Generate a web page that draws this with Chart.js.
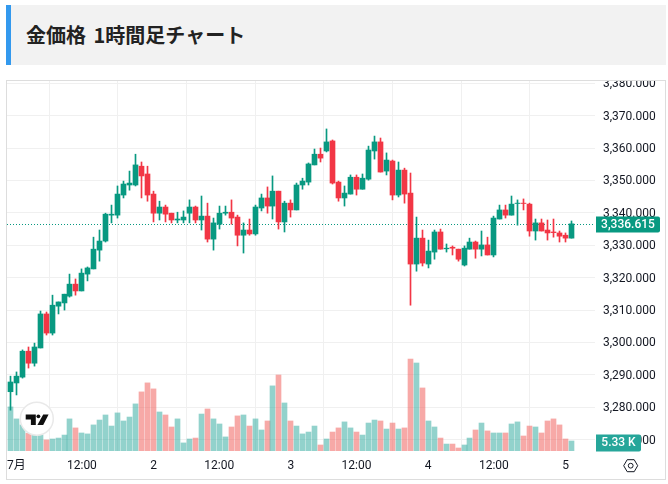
<!DOCTYPE html>
<html lang="ja">
<head>
<meta charset="utf-8">
<title>金価格 1時間足チャート</title>
<script src="https://cdn.jsdelivr.net/npm/chart.js@4"></script>
<style>
  html, body { margin: 0; padding: 0; background: #fff; }
  .title {
    position: absolute; left: 6px; top: 5px; width: 660px; height: 60px;
    box-sizing: border-box; background: #f2f2f2; border-left: 5px solid #3399ee;
    padding-left: 15px; margin: 0; word-spacing: 3px;
    font: bold 20px/60px "Noto Sans CJK JP", sans-serif; color: #222;
  }
  .card {
    position: absolute; left: 6px; top: 80px; width: 658px; height: 398px;
    border: 1px solid #ddd; background: #fff;
  }
  canvas { display: block; }
</style>
</head>
<body>
<h2 class="title">金価格 1時間足チャート</h2>
<div class="card"><canvas id="goldChart" width="658" height="398"></canvas></div>
<script>
const opens = [3284.8,3287.5,3289.3,3297.3,3293.6,3298.3,3308.8,3302.9,3311.2,3312.2,3314.3,3318.0,3315.9,3321.1,3322.7,3328.5,3331.3,3339.3,3339.3,3345.5,3348.6,3348.6,3354.4,3352.0,3345.8,3339.9,3341.8,3339.9,3337.8,3337.8,3339.9,3341.8,3337.8,3339.0,3331.9,3336.5,3339.9,3340.2,3338.7,3333.1,3334.7,3333.5,3341.5,3344.6,3342.1,3346.7,3337.2,3343.0,3340.9,3348.6,3349.5,3354.8,3358.1,3359.1,3362.2,3349.5,3344.6,3345.8,3351.0,3347.3,3350.4,3359.1,3361.9,3352.9,3356.0,3345.5,3353.2,3346.1,3324.2,3332.2,3324.2,3327.9,3334.1,3328.9,3329.4,3328.8,3323.9,3328.8,3331.0,3328.8,3330.1,3327.0,3338.1,3340.9,3339.3,3342.9,3343.0,3342.7,3334.4,3336.9,3334.7,3334.1,3333.8,3333.1,3332.2];
const highs = [3289.6,3290.9,3297.7,3298.6,3299.8,3309.7,3309.4,3314.6,3312.5,3314.9,3321.1,3319.6,3322.7,3323.3,3332.5,3334.7,3339.9,3342.4,3348.3,3349.8,3352.9,3358.1,3355.7,3354.4,3346.7,3343.6,3342.4,3339.9,3340.2,3340.6,3344.0,3342.1,3345.2,3343.0,3338.4,3342.1,3342.1,3344.0,3339.3,3336.9,3338.1,3342.4,3345.8,3348.0,3351.4,3346.7,3343.6,3344.0,3349.2,3350.7,3355.4,3359.7,3360.0,3365.9,3362.5,3349.8,3348.3,3351.7,3351.7,3352.0,3360.6,3363.7,3363.1,3358.5,3356.3,3355.7,3353.8,3352.3,3338.7,3334.7,3331.6,3334.7,3335.0,3330.4,3329.8,3328.8,3329.8,3332.2,3331.3,3334.4,3332.5,3339.0,3342.4,3342.4,3345.2,3344.0,3344.3,3343.0,3338.1,3338.1,3337.8,3338.1,3334.4,3333.8,3337.5];
const lows = [3279.1,3283.8,3289.0,3292.1,3292.7,3298.3,3302.3,3302.3,3308.8,3310.0,3314.0,3314.6,3315.9,3319.0,3322.7,3325.1,3331.0,3336.9,3338.4,3344.6,3347.0,3348.3,3344.6,3343.6,3337.2,3337.8,3337.2,3336.9,3336.9,3336.9,3336.9,3336.9,3334.7,3331.0,3328.5,3335.0,3339.3,3336.5,3329.8,3327.6,3333.1,3333.1,3340.6,3339.9,3338.1,3335.0,3334.1,3338.7,3340.9,3347.3,3348.6,3354.8,3355.7,3358.8,3348.9,3343.6,3342.1,3345.8,3345.5,3347.3,3350.1,3356.6,3352.6,3351.7,3344.0,3344.9,3343.0,3311.5,3322.0,3323.6,3323.0,3325.7,3328.8,3327.9,3327.0,3325.1,3323.6,3328.8,3326.0,3326.7,3327.0,3326.4,3338.1,3338.4,3339.3,3336.2,3340.9,3332.8,3331.6,3334.4,3331.6,3332.5,3331.0,3331.0,3332.2];
const closes = [3287.8,3289.6,3297.3,3293.6,3298.6,3308.8,3302.9,3311.5,3312.5,3314.9,3318.0,3315.9,3321.4,3323.0,3328.8,3331.3,3339.6,3339.6,3345.8,3348.9,3349.2,3354.8,3351.4,3345.5,3339.9,3341.8,3339.6,3337.8,3338.1,3338.7,3341.8,3337.8,3339.0,3331.9,3336.9,3339.9,3340.2,3338.4,3333.1,3334.7,3333.5,3341.8,3344.6,3342.1,3346.7,3337.2,3343.0,3340.9,3348.6,3349.8,3355.1,3358.1,3356.9,3361.9,3349.2,3344.6,3346.1,3351.0,3347.3,3350.7,3359.4,3361.9,3352.6,3356.3,3345.5,3353.2,3345.8,3324.2,3332.2,3324.5,3328.2,3334.1,3328.8,3329.1,3329.1,3325.7,3329.1,3331.0,3328.8,3330.1,3327.0,3338.4,3340.9,3339.3,3342.7,3343.0,3342.9,3334.4,3336.9,3334.4,3333.8,3333.9,3332.8,3332.2,3336.615];
// volume in thousands
const volumes = [23.5,17.1,13.9,9.4,8.5,8.5,5.9,6.4,6.9,8.5,17.1,12.3,9.6,9.1,13.9,16.5,19.2,13.3,20.3,16.0,18.1,25.1,31.5,36.3,33.1,20.8,19.2,12.8,17.1,4.3,6.4,6.9,19.7,22.4,17.1,14.4,7.5,12.8,18.7,19.2,13.3,17.1,11.2,16.0,34.7,40.5,25.6,16.0,13.3,9.1,10.1,13.3,3.2,6.4,10.1,12.3,15.5,12.3,10.1,8.5,14.9,16.5,16.0,11.7,14.9,11.7,12.3,49.0,46.9,33.6,16.0,12.8,6.9,3.7,3.7,1.6,3.2,6.9,11.2,14.9,10.7,9.6,9.6,9.6,14.4,15.5,8.0,13.3,12.8,9.6,16.0,17.1,13.9,6.4,5.33];
const tickIndex = [1, 12, 24, 35, 47, 58, 70, 81, 93];
const tickLabels = ["7月", "12:00", "2", "12:00", "3", "12:00", "4", "12:00", "5"];
const volumeLabel = "5.33 K";

const UP = "#089981";
const DOWN = "#F23645";
const UP_VOL = "rgba(38,166,154,0.5)";
const DOWN_VOL = "rgba(239,83,80,0.5)";
const GRID = "#f0f0f0";
const TEXT = "#131722";
const AXIS_FONT = { family: 'Roboto, "Noto Sans CJK JP", sans-serif', size: 12 };

function isUp(i) {
  return closes[i] >= opens[i];
}

function formatPrice(v) {
  return v.toLocaleString("en-US", { minimumFractionDigits: 3, maximumFractionDigits: 3 });
}

function roundedBadge(ctx, x, y, w, h, radii, color, label) {
  ctx.fillStyle = color;
  ctx.beginPath();
  ctx.roundRect(x, y, w, h, radii);
  ctx.fill();
  ctx.fillStyle = "#fff";
  ctx.font = "500 12px " + AXIS_FONT.family;
  ctx.textAlign = "center";
  ctx.textBaseline = "middle";
  ctx.fillText(label, x + w / 2, y + h / 2 + 0.5);
}

function drawLogo(ctx) {
  ctx.save();
  ctx.translate(-7, -81);
  ctx.beginPath();
  ctx.arc(36.8, 418.7, 16.5, 0, Math.PI * 2);
  ctx.fillStyle = "#fff";
  ctx.fill();
  ctx.strokeStyle = "#e9e9e9";
  ctx.lineWidth = 1.5;
  ctx.stroke();
  ctx.fillStyle = "#0f0f0f";
  ctx.beginPath();
  ctx.moveTo(25.7, 414.4);
  ctx.lineTo(35.8, 414.4);
  ctx.lineTo(35.8, 425);
  ctx.lineTo(30.9, 425);
  ctx.lineTo(30.9, 419.4);
  ctx.lineTo(25.7, 419.4);
  ctx.closePath();
  ctx.fill();
  ctx.beginPath();
  ctx.arc(38.4, 416.3, 1.9, 0, Math.PI * 2);
  ctx.fill();
  ctx.beginPath();
  ctx.moveTo(43.2, 414.4);
  ctx.lineTo(48.6, 414.4);
  ctx.lineTo(43.2, 425);
  ctx.lineTo(37.4, 425);
  ctx.closePath();
  ctx.fill();
  ctx.restore();
}

function drawSettingsIcon(ctx) {
  const cx = 623.7;
  const cy = 384.7;
  ctx.save();
  ctx.strokeStyle = TEXT;
  ctx.lineWidth = 1;
  ctx.beginPath();
  ctx.moveTo(cx - 7, cy);
  ctx.lineTo(cx - 3.5, cy - 6);
  ctx.lineTo(cx + 3.5, cy - 6);
  ctx.lineTo(cx + 7, cy);
  ctx.lineTo(cx + 3.5, cy + 6);
  ctx.lineTo(cx - 3.5, cy + 6);
  ctx.closePath();
  ctx.stroke();
  ctx.beginPath();
  ctx.arc(cx, cy, 2.4, 0, Math.PI * 2);
  ctx.stroke();
  ctx.restore();
}

const overlayPlugin = {
  id: "overlay",
  // snap bars onto whole pixels so the 1px wicks stay crisp
  afterDatasetsUpdate(chart) {
    chart.data.datasets.forEach((ds, i) => {
      chart.getDatasetMeta(i).data.forEach((el) => {
        el.x = Math.floor(el.x) + 0.5;
      });
    });
  },
  beforeDatasetsDraw(chart) {
    const { ctx, chartArea, scales } = chart;
    const y = Math.round(scales.y.getPixelForValue(closes[closes.length - 1])) + 0.5;
    ctx.save();
    ctx.strokeStyle = UP;
    ctx.lineWidth = 1;
    ctx.setLineDash([1, 2]);
    ctx.beginPath();
    ctx.moveTo(chartArea.left, y);
    ctx.lineTo(chartArea.right, y);
    ctx.stroke();
    ctx.restore();
  },
  afterDraw(chart) {
    const { ctx, chartArea, scales } = chart;
    const last = closes.length - 1;
    const priceY = scales.y.getPixelForValue(closes[last]);
    const volY = scales.yVol.getPixelForValue(volumes[last]);
    ctx.save();
    roundedBadge(ctx, chartArea.right + 1, Math.round(priceY) - 7.5, 64, 16, [0, 2, 2, 0], UP, formatPrice(closes[last]));
    roundedBadge(ctx, chartArea.right + 1, volY - 6.5, 45, 17, [0, 2, 2, 0], "#26a69a", volumeLabel);
    ctx.restore();
    drawLogo(ctx);
    drawSettingsIcon(ctx);
  },
};

window.addEventListener("DOMContentLoaded", () => {
  const ctx = document.getElementById("goldChart").getContext("2d");
  new Chart(ctx, {
    type: "bar",
    data: {
      datasets: [
        {
          label: "Body",
          data: opens.map((o, i) => ({ x: i, y: [o, closes[i]] })),
          backgroundColor: opens.map((o, i) => (isUp(i) ? UP : DOWN)),
          barThickness: 5,
          grouped: false,
          order: 1,
        },
        {
          label: "Wick",
          data: lows.map((l, i) => ({ x: i, y: [l, highs[i]] })),
          backgroundColor: opens.map((o, i) => (isUp(i) ? UP : DOWN)),
          barThickness: 1,
          grouped: false,
          order: 2,
        },
        {
          label: "Volume",
          data: volumes.map((v, i) => ({ x: i, y: v })),
          backgroundColor: opens.map((o, i) => (isUp(i) ? UP_VOL : DOWN_VOL)),
          barThickness: 5,
          grouped: false,
          yAxisID: "yVol",
          order: 3,
        },
      ],
    },
    options: {
      responsive: false,
      animation: false,
      events: [],
      layout: { padding: 0 },
      plugins: { legend: { display: false }, tooltip: { enabled: false } },
      scales: {
        x: {
          type: "linear",
          min: -0.55,
          max: 97.94,
          offset: false,
          grid: { color: GRID, drawTicks: false },
          border: { display: false },
          ticks: {
            autoSkip: false,
            maxRotation: 0,
            padding: 8,
            color: TEXT,
            font: AXIS_FONT,
            callback: (v) => tickLabels[tickIndex.indexOf(v)],
          },
          afterBuildTicks(scale) {
            scale.ticks = tickIndex.map((v) => ({ value: v }));
          },
          afterFit(scale) {
            scale.height = 28;
            scale.paddingLeft = 0;
            scale.paddingRight = 0;
          },
        },
        y: {
          position: "right",
          min: 3266.5,
          max: 3380.7,
          grid: { color: GRID, drawTicks: false },
          border: { display: false },
          ticks: {
            stepSize: 10,
            includeBounds: false,
            autoSkip: false,
            padding: 8,
            labelOffset: 1,
            color: TEXT,
            font: AXIS_FONT,
            callback: (v) => formatPrice(v),
          },
          afterFit(scale) {
            scale.width = 70;
            scale.paddingTop = 0;
            scale.paddingBottom = 0;
          },
        },
        yVol: {
          display: false,
          min: 0,
          max: 197.2,
        },
      },
    },
    plugins: [overlayPlugin],
  });
});
</script>
</body>
</html>
